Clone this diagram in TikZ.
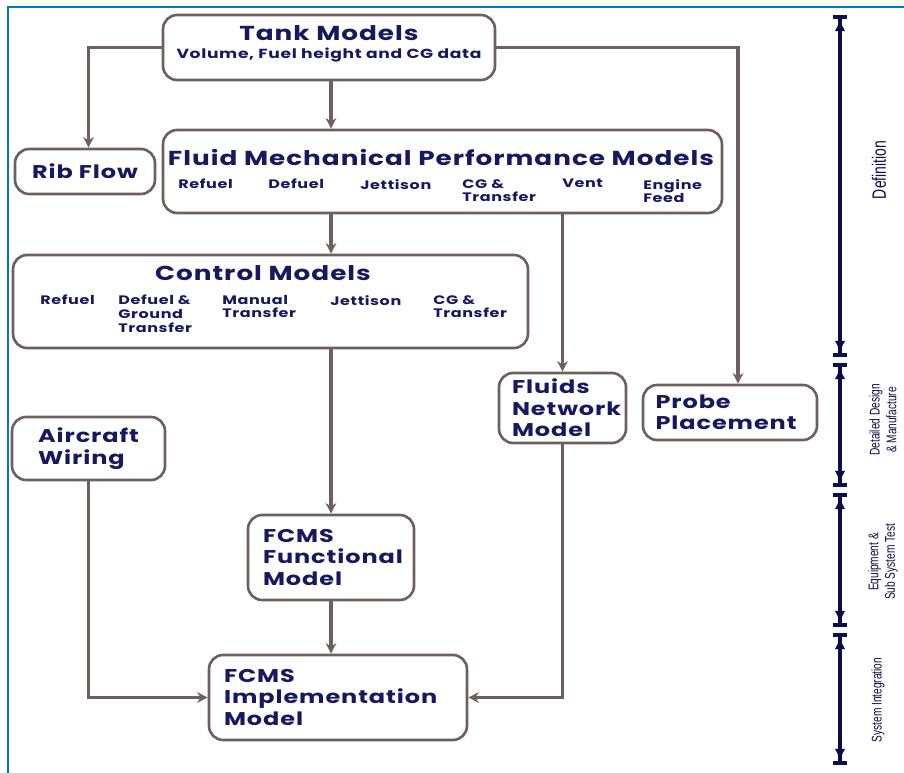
\documentclass[tikz,border=0pt]{standalone}
\usepackage{fontspec}
\setmainfont{Poppins}
\newfontfamily\boxfont[FakeStretch=1.3,LetterSpace=5]{Poppins}
\newfontfamily\narrowfont[FakeStretch=0.72]{Liberation Sans}
\usetikzlibrary{arrows.meta,positioning}
\definecolor{linegray}{RGB}{110,96,92}
\definecolor{textnavy}{RGB}{24,24,96}
\definecolor{phasenavy}{RGB}{12,12,72}
\definecolor{frameblue}{RGB}{0,125,185}

\begin{document}
\begin{tikzpicture}[
  x=0.02cm, y=-0.02cm,
  every node/.style={text=textnavy},
  box/.style={
    draw=linegray,
    line width=1.5pt,
    rounded corners=8pt,
    fill=white,
    inner xsep=0.3cm,
    inner ysep=0pt,
    align=left,
    font=\boxfont\bfseries\fontsize{10.5}{12.2}\selectfont
  },
  title/.style={font=\boxfont\bfseries\fontsize{11.5}{13}\selectfont},
  subtitle/.style={font=\boxfont\bfseries\fontsize{7.5}{9}\selectfont},
  item/.style={anchor=north west, align=left, inner sep=0pt,
    font=\boxfont\bfseries\fontsize{7}{7.7}\selectfont},
  arrow/.style={-{Stealth[length=6pt,width=6pt]}, draw=linegray, line width=2pt},
  phase/.style={draw=phasenavy, line width=2.2pt,
    {Bar[width=8pt]Latex[length=7pt,width=6pt]}-{Latex[length=7pt,width=6pt]Bar[width=8pt]}},
  phasetext/.style={rotate=90, text=phasenavy, align=center,
    font=\narrowfont\fontsize{8}{9.5}\selectfont}
]
\useasboundingbox (0,0) rectangle (904,773);
\draw[frameblue, line width=1.2pt] (8,773) -- (8,7) -- (904,7);

\node[box, minimum width=6.64cm, minimum height=1.3cm] (tank) at (329,47.5) {};
\node[title] (tankt) at (329,33) {Tank Models};
\node[subtitle] (tanks) at (329,55) {Volume, Fuel height and CG data};

\node[box, minimum width=11.18cm, minimum height=1.66cm] (fluid) at (442.5,171.5) {};
\node[title] (fluidt) at (441,157) {Fluid Mechanical Performance Models};
\foreach \x/\t [count=\i] in {178/Refuel, 268/Defuel, 360/Jettison,
  462/{CG \&\\Transfer}, 562/Vent, 643/{Engine\\Feed}}
  \node[item] (fi\i) at (\x,179) {\t};

\node[box, align=center, inner xsep=0pt, minimum width=2.8cm, minimum height=0.9cm] (rib) at (85,171.5) {Rib Flow};

\node[box, minimum width=10.3cm, minimum height=1.86cm] (ctrl) at (270.5,301.5) {};
\node[title] (ctrlt) at (263,273) {Control Models};
\foreach \x/\t [count=\i] in {40/Refuel, 118/{Defuel \&\\Ground\\Transfer},
  222/{Manual\\Transfer}, 330/Jettison, 433/{CG \&\\Transfer}}
  \node[item] (ci\i) at (\x,295) {\t};

\node[box, text width=2.02cm, minimum height=1.4cm, inner xsep=0.26cm] (net) at (562.5,408) {Fluids\\Network\\Model};
\node[box, text width=2.98cm, minimum height=1.1cm, inner xsep=0.25cm] (probe) at (730,412.5) {Probe\\Placement};
\node[box, text width=2.02cm, minimum height=1.26cm, inner xsep=0.52cm] (wiring) at (88.5,448.5) {Aircraft\\Wiring};
\node[box, text width=2.72cm, minimum height=1.7cm] (func) at (331,557.5) {FCMS\\Functional\\Model};
\node[box, text width=4.56cm, minimum height=1.7cm] (impl) at (338,697.5) {FCMS\\Implementation\\Model};

\draw[arrow] (tank.south -| func.north) -- (fluid.north -| func.north);
\draw[arrow] (tank.west) -| (rib.north -| wiring.south);
\draw[arrow] (tank.east) -| ([xshift=0.16cm]probe.north);
\draw[arrow] (fluid.south -| func.north) -- (ctrl.north -| func.north);
\draw[arrow] (fluid.south -| net.north) -- (net.north);
\draw[arrow] (ctrl.south -| func.north) -- (func.north);
\draw[arrow] (func.south) -- (impl.north -| func.south);
\draw[arrow] (wiring.south) |- (impl.west);
\draw[arrow] (net.south) |- (impl.east);

\coordinate (p0) at (840,15);
\coordinate (p1a) at (840,357);
\coordinate (p1b) at (840,363);
\coordinate (p2a) at (840,487);
\coordinate (p2b) at (840,493);
\coordinate (p3a) at (840,627);
\coordinate (p3b) at (840,633);
\coordinate (p4) at (840,765);
\draw[phase] (p0) -- (p1a);
\draw[phase] (p1b) -- (p2a);
\draw[phase] (p2b) -- (p3a);
\draw[phase] (p3b) -- (p4);

\node[phasetext, font=\narrowfont\fontsize{11}{12}\selectfont] (def) at (879,170) {Definition};
\node[phasetext] (ddm) at (883,420) {Detailed Design\\\& Manufacture};
\node[phasetext] (est) at (883,562) {Equipment \&\\Sub System Test};
\node[phasetext] (sint) at (878,700) {System Integration};
\end{tikzpicture}
\end{document}
